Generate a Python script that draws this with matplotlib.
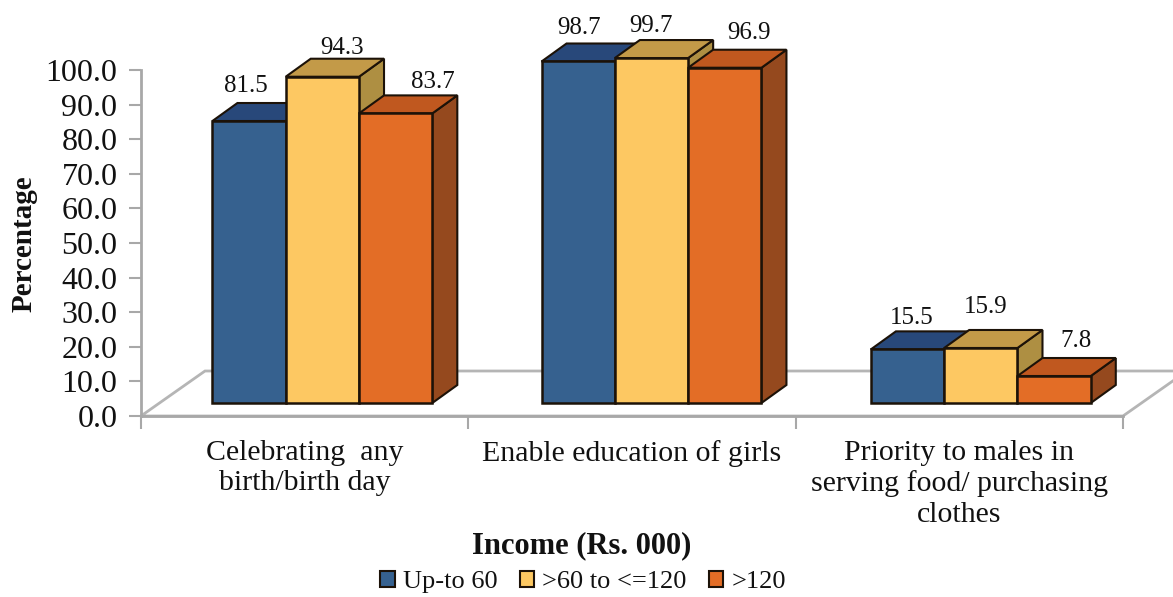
import numpy as np
import matplotlib
matplotlib.use("Agg")
import matplotlib.pyplot as plt
from matplotlib.patches import Polygon, Patch

categories = [
    "Celebrating  any\nbirth/birth day",
    "Enable education of girls",
    "Priority to males in\nserving food/ purchasing\nclothes",
]
series_names = ["Up-to 60", ">60 to <=120", ">120"]
up_to_60 = [81.5, 98.7, 15.5]
mid_income = [94.3, 99.7, 15.9]
above_120 = [83.7, 96.9, 7.8]
y_ticks = [0, 10, 20, 30, 40, 50, 60, 70, 80, 90, 100]

front_colors = ["#36618f", "#fdc862", "#e36d26"]
top_colors = ["#28487a", "#c39a48", "#c0581f"]
side_colors = ["#28487a", "#ae8f42", "#95491e"]

W, H = 1173, 597
plt.rcParams["font.family"] = ["Liberation Serif", "DejaVu Serif"]

fig = plt.figure(figsize=(W / 100, H / 100), dpi=100)
ax = fig.add_axes([141 / W, 1 - 416 / H, (1123 - 141) / W, (416 - 70) / H])
ax.set_xlim(0, 3)
ax.set_ylim(0, 100)

# pixel sizes turned into axis units
px_x = 3 / (1123 - 141)
px_y = 100 / (416 - 70)
bar_w = 73.3 * px_x
depth_x = 25 * px_x
depth_y = 18 * px_y
base = 13 * px_y
group_shift = [17.7 * px_x, 19.5 * px_x, 21.5 * px_x]

# floor of the 3d box
floor = Polygon(
    [(0, 0), (64 * px_x, 45 * px_y), (3 + 64 * px_x, 45 * px_y), (3, 0)],
    closed=True, facecolor="white", edgecolor="#b5b5b5", lw=2, clip_on=False, zorder=1,
)
ax.add_patch(floor)

# label offsets from the middle of the bar's front top edge, in pixels
label_offsets = [
    [(-3.5, 35), (20, 29), (37, 31)],
    [(1, 33), (0, 32), (24, 35)],
    [(4, 31), (5, 41), (22, 35)],
]

series = [up_to_60, mid_income, above_120]
edge = "#1c1208"
z = 2
for g in range(len(categories)):
    for s, values in enumerate(series):
        v = values[g]
        x0 = g + 0.5 + group_shift[g] + (s - 1.5) * bar_w
        x1 = x0 + bar_w
        y0 = base
        y1 = base + v
        side = [(x1, y0), (x1 + depth_x, y0 + depth_y), (x1 + depth_x, y1 + depth_y), (x1, y1)]
        top = [(x0, y1), (x0 + depth_x, y1 + depth_y), (x1 + depth_x, y1 + depth_y), (x1, y1)]
        front = [(x0, y0), (x1, y0), (x1, y1), (x0, y1)]
        ax.add_patch(Polygon(side, closed=True, fc=side_colors[s], ec=edge, lw=1.5, clip_on=False, zorder=z))
        ax.add_patch(Polygon(top, closed=True, fc=top_colors[s], ec=edge, lw=1.5, clip_on=False, zorder=z))
        ax.add_patch(Polygon(front, closed=True, fc=front_colors[s], ec=edge, lw=1.8, clip_on=False, zorder=z))
        z += 1
        dx, dy = label_offsets[g][s]
        ax.annotate(f"{v:.1f}", ((x0 + x1) / 2, y1), xytext=(dx * 0.72, dy * 0.72),
                    textcoords="offset points", ha="center", va="center",
                    fontsize=18, color="#111111", zorder=50, annotation_clip=False)

for name in ["top", "right"]:
    ax.spines[name].set_visible(False)
for name in ["left", "bottom"]:
    ax.spines[name].set_color("#a8a8a8")
    ax.spines[name].set_linewidth(2)
    ax.spines[name].set_zorder(1.5)

ax.set_yticks(y_ticks)
ax.set_yticklabels([f"{t:.1f}" for t in y_ticks], fontsize=23, color="#111111")
ax.tick_params(axis="y", length=9, width=1.5, color="#a8a8a8", pad=8)

ax.set_xticks(np.arange(4))
ax.set_xticklabels([])
ax.tick_params(axis="x", length=9, width=1.5, color="#a8a8a8")

# category names sit between the ticks
for g, name in enumerate(categories):
    ax.annotate(name, (g + 0.5, 0), xytext=(0, -17), textcoords="offset points",
                ha="center", va="top", fontsize=21.5, linespacing=1.22, color="#111111",
                annotation_clip=False)

fig.text(24 / W, 1 - 244 / H, "Percentage", rotation=90, ha="center", va="center",
         fontsize=21, fontweight="bold", color="#111111")
fig.text(582 / W, 1 - 546 / H, "Income (Rs. 000)", ha="center", va="center",
         fontsize=22, fontweight="bold", color="#111111")

handles = [Patch(facecolor=front_colors[i], edgecolor=edge, lw=1.5, label=series_names[i]) for i in range(3)]
fig.legend(handles=handles, loc="center", bbox_to_anchor=(583 / W, 1 - 582 / H), ncol=3,
           frameon=False, fontsize=19, handlelength=0.55, handleheight=0.6,
           handletextpad=0.3, columnspacing=0.85, labelcolor="#111111", borderpad=0)

fig.savefig("out.png", dpi=100)
